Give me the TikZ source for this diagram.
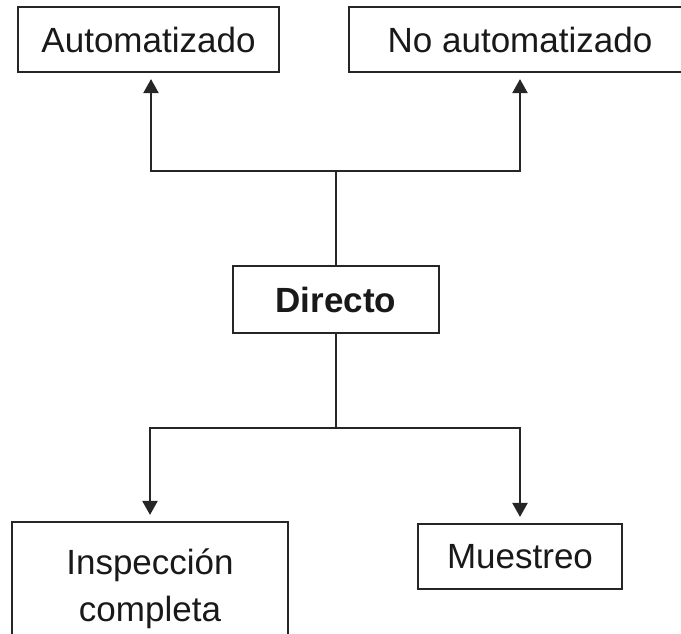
\documentclass[tikz,border=0pt]{standalone}
\usepackage{fontspec}
\setmainfont{Liberation Sans}
\usetikzlibrary{arrows.meta}
\begin{document}
\begin{tikzpicture}[x=1pt,y=-1pt,
  box/.style={draw=black!85, line width=2.1pt, fill=white, inner sep=0pt, align=center,
    font=\fontsize{35}{47}\selectfont, text=black!90},
  conn/.style={draw=black!85, line width=2.1pt},
  arr/.style={conn, -{Triangle[length=14pt,width=15pt]}, shorten >=6pt}]
\useasboundingbox (0,0) rectangle (681,633);
\clip (0,0) rectangle (681,633);
\node[box, minimum width=261pt, minimum height=65pt] (auto) at (148.5,39.5) {\raisebox{-2pt}{Automatizado}};
\node[box, minimum width=342pt, minimum height=65pt] (noauto) at (520,39.5) {\raisebox{-2pt}{No automatizado}};
\node[box, minimum width=206pt, minimum height=67pt, font=\fontsize{35}{47}\selectfont\bfseries] (dir) at (336,299.5) {\raisebox{-2pt}{Directo}};
\node[box, minimum width=276pt, minimum height=134pt] (insp) at (150,589) {Inspección\\completa};
\node[box, minimum width=204pt, minimum height=65pt] (mue) at (520,556.5) {\raisebox{-2pt}{Muestreo}};
\coordinate (jt) at (336,171);
\coordinate (jb) at (336,428);
\draw[conn] (dir.north) -- (jt);
\draw[arr] (jt) -| ([xshift=2.5pt]auto.south);
\draw[arr] (jt) -| (noauto.south);
\draw[conn] (dir.south) -- (jb);
\draw[arr] (jb) -| (insp.north);
\draw[arr] (jb) -| (mue.north);
\end{tikzpicture}
\end{document}
